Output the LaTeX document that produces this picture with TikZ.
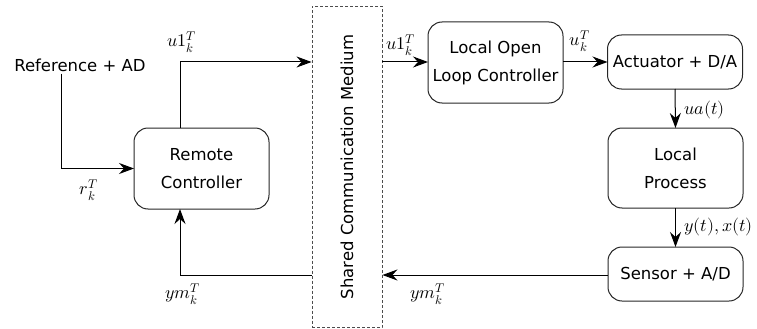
\documentclass[tikz,border=0pt]{standalone}
\usepackage{fontspec}
\usepackage{unicode-math}
\setmainfont{DejaVu Sans}
\usetikzlibrary{arrows.meta}
\begin{document}
\begin{tikzpicture}[x=1pt,y=-1pt,
  font=\fontsize{16.5}{28}\selectfont,
  blk/.style={draw=black!85, line width=1pt, rounded corners=14pt, align=center,
    inner sep=0pt, outer sep=0pt, minimum width=135pt},
  conn/.style={line width=1pt, -{Stealth[length=15pt,width=11pt,inset=5pt]}},
  lab/.style={inner sep=0pt, font=\fontsize{18}{20}\selectfont}]
\useasboundingbox (0,0) rectangle (757,329);

% blocks
\node[blk, minimum height=81pt] (rc) at (201.5,168.5) {Remote\\Controller};
\node[blk, minimum height=81pt] (loc) at (495.5,62.5) {Local Open\\Loop Controller};
\node[blk, minimum height=54pt] (act) at (675,62) {Actuator + D/A};
\node[blk, minimum height=80pt] (proc) at (675.5,168) {Local\\Process};
\node[blk, minimum height=54pt] (sens) at (675.5,274) {Sensor + A/D};

% shared medium
\node[draw=black!70, dash pattern=on 3pt off 2pt, line width=0.9pt,
  minimum width=70pt, minimum height=321pt, inner sep=0pt] (med) at (347,167) {};
\node[rotate=90] at (med.center) {Shared Communication Medium};

% reference input
\node[inner sep=2pt] (ref) at (80,65) {Reference + AD};

% routing helpers
\coordinate (tapx) at (180,0);
\coordinate (refx) at (61,0);
\coordinate (fwdy) at (0,62);
\coordinate (backy) at (0,275);

% connectors
\draw[conn] (ref.south -| refx) |- (rc.west);
\draw[conn] (rc.north -| tapx) |- (med.west |- fwdy);
\draw[conn] (med.east |- fwdy) -- (loc.west |- fwdy);
\draw[conn] (loc.east |- fwdy) -- (act.west |- fwdy);
\draw[conn] (act.south) -- (proc.north);
\draw[conn] (proc.south) -- (sens.north);
\draw[conn] (sens.west |- backy) -- (med.east |- backy);
\draw[conn] (med.west |- backy) -| (rc.south -| tapx);

% labels
\node[lab] at (182,42) {$u1_k^T$};
\node[lab] at (89,190) {$r_k^T$};
\node[lab] at (183,294) {$ym_k^T$};
\node[lab] at (401,45) {$u1_k^T$};
\node[lab] at (580,41) {$u_k^T$};
\node[lab, anchor=west] at (684,110) {$ua(t)$};
\node[lab, anchor=west] at (684,227) {$y(t),x(t)$};
\node[lab] at (428,294) {$ym_k^T$};
\end{tikzpicture}
\end{document}
